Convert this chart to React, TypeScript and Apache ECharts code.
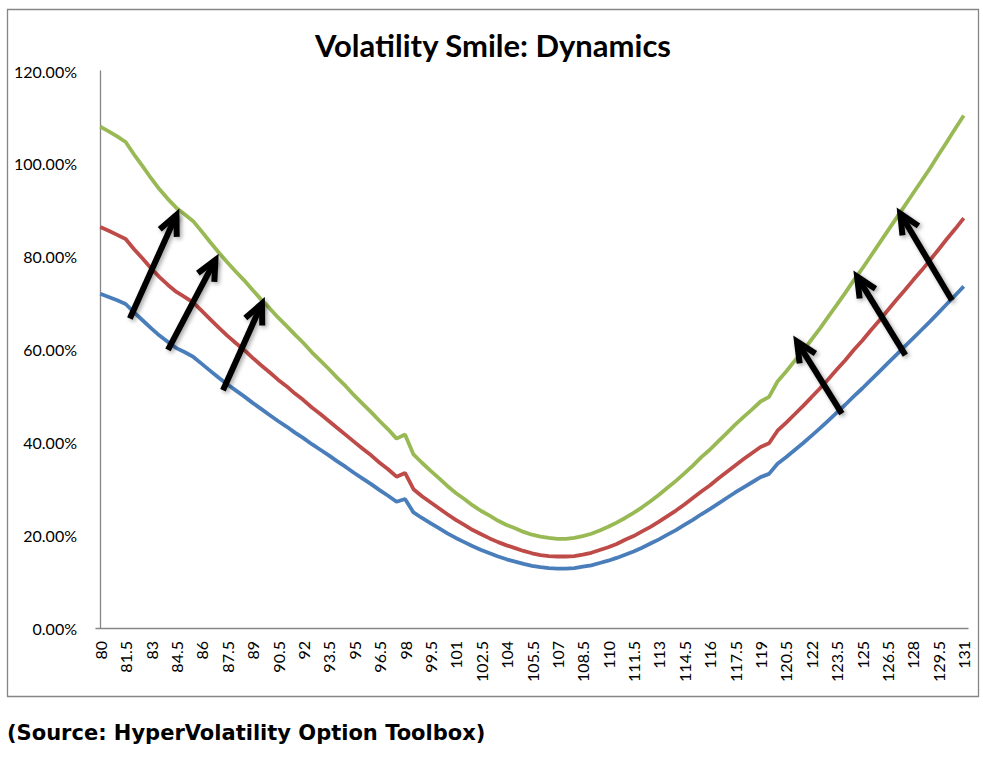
import React, { useRef, useEffect } from 'react';
import * as echarts from 'echarts';

// strikes 80 .. 131, every 0.5
const strikes = [
  '80', '80.5', '81', '81.5', '82', '82.5', '83', '83.5', '84', '84.5',
  '85', '85.5', '86', '86.5', '87', '87.5', '88', '88.5', '89', '89.5',
  '90', '90.5', '91', '91.5', '92', '92.5', '93', '93.5', '94', '94.5',
  '95', '95.5', '96', '96.5', '97', '97.5', '98', '98.5', '99', '99.5',
  '100', '100.5', '101', '101.5', '102', '102.5', '103', '103.5', '104', '104.5',
  '105', '105.5', '106', '106.5', '107', '107.5', '108', '108.5', '109', '109.5',
  '110', '110.5', '111', '111.5', '112', '112.5', '113', '113.5', '114', '114.5',
  '115', '115.5', '116', '116.5', '117', '117.5', '118', '118.5', '119', '119.5',
  '120', '120.5', '121', '121.5', '122', '122.5', '123', '123.5', '124', '124.5',
  '125', '125.5', '126', '126.5', '127', '127.5', '128', '128.5', '129', '129.5',
  '130', '130.5', '131',
];

// implied vol (%), low smile
const volLow = [
  72.0, 71.3, 70.6, 69.8, 68.0, 66.3, 64.6, 63.0, 61.6, 60.3,
  59.4, 58.4, 56.9, 55.4, 53.9, 52.5, 51.2, 49.9, 48.5, 47.2,
  45.9, 44.6, 43.4, 42.1, 40.9, 39.6, 38.4, 37.2, 35.9, 34.7,
  33.4, 32.2, 31.0, 29.7, 28.5, 27.2, 27.8, 24.9, 23.7, 22.6,
  21.5, 20.4, 19.4, 18.5, 17.6, 16.8, 16.1, 15.4, 14.8, 14.3,
  13.8, 13.4, 13.1, 12.9, 12.8, 12.8, 12.9, 13.2, 13.5, 14.0,
  14.5, 15.1, 15.8, 16.5, 17.3, 18.2, 19.1, 20.1, 21.1, 22.2,
  23.3, 24.5, 25.6, 26.8, 28.0, 29.2, 30.3, 31.4, 32.5, 33.2,
  35.4, 36.8, 38.3, 39.8, 41.4, 43.0, 44.7, 46.4, 48.1, 49.9,
  51.6, 53.4, 55.2, 57.0, 58.8, 60.6, 62.4, 64.2, 66.0, 67.9,
  69.8, 71.7, 73.6,
];

// middle smile
const volMid = [
  86.4, 85.6, 84.7, 83.8, 81.6, 79.6, 77.5, 75.6, 73.9, 72.4,
  71.3, 70.1, 68.3, 66.5, 64.7, 63.0, 61.4, 59.9, 58.2, 56.6,
  55.1, 53.5, 52.1, 50.5, 49.1, 47.5, 46.1, 44.6, 43.1, 41.6,
  40.1, 38.6, 37.2, 35.6, 34.2, 32.6, 33.4, 29.9, 28.4, 27.1,
  25.8, 24.5, 23.3, 22.2, 21.1, 20.2, 19.3, 18.5, 17.8, 17.2,
  16.6, 16.1, 15.7, 15.5, 15.4, 15.4, 15.5, 15.8, 16.2, 16.8,
  17.4, 18.1, 19.0, 19.8, 20.8, 21.8, 22.9, 24.1, 25.3, 26.6,
  28.0, 29.4, 30.7, 32.2, 33.6, 35.0, 36.4, 37.7, 39.0, 39.8,
  42.5, 44.2, 46.0, 47.8, 49.7, 51.6, 53.6, 55.7, 57.7, 59.9,
  61.9, 64.1, 66.2, 68.4, 70.6, 72.7, 74.9, 77.0, 79.2, 81.5,
  83.8, 86.0, 88.3,
];

// high smile
const volHigh = [
  108.0, 107.0, 105.9, 104.7, 102.0, 99.5, 96.9, 94.5, 92.4, 90.5,
  89.1, 87.6, 85.4, 83.1, 80.9, 78.8, 76.8, 74.9, 72.8, 70.8,
  68.9, 66.9, 65.1, 63.2, 61.4, 59.4, 57.6, 55.8, 53.9, 52.1,
  50.1, 48.3, 46.5, 44.6, 42.8, 40.8, 41.7, 37.4, 35.6, 33.9,
  32.3, 30.6, 29.1, 27.8, 26.4, 25.2, 24.2, 23.1, 22.2, 21.5,
  20.7, 20.1, 19.7, 19.4, 19.2, 19.2, 19.4, 19.8, 20.3, 21.0,
  21.8, 22.7, 23.7, 24.8, 26.0, 27.3, 28.7, 30.2, 31.7, 33.3,
  35.0, 36.8, 38.4, 40.2, 42.0, 43.8, 45.5, 47.1, 48.8, 49.8,
  53.1, 55.2, 57.5, 59.7, 62.1, 64.5, 67.1, 69.6, 72.2, 74.9,
  77.4, 80.1, 82.8, 85.5, 88.2, 90.9, 93.6, 96.3, 99.0, 101.9,
  104.7, 107.6, 110.4,
];

// annotation arrows: [tail strike index, tail vol, head strike index, head vol]
const arrows = [
  [3.5, 66.7, 9.0, 89.0],
  [8.0, 59.9, 13.6, 79.3],
  [14.5, 51.2, 19.1, 69.9],
  [87.6, 46.2, 82.3, 61.7],
  [95.1, 58.8, 89.4, 75.7],
  [100.6, 70.6, 94.5, 89.3],
];

const yTicks = { min: 0, max: 120, step: 20 };

const AXIS_GREY = '#868686';
const LABEL_FONT = { fontFamily: 'Lato', fontSize: 16, color: '#000' };

const App = () => {
  const chartRef = useRef(null);

  useEffect(() => {
    const myChart = echarts.init(chartRef.current, null, { renderer: 'svg' });

    const lineSeries = (name, data, color) => ({
      name,
      type: 'line',
      data,
      symbol: 'none',
      smooth: false,
      lineStyle: { color, width: 3.8 },
      itemStyle: { color },
    });

    const option = {
      animation: false,
      backgroundColor: '#fff',
      grid: { left: 96, right: 15, top: 71, bottom: 131, containLabel: false },
      xAxis: [
        {
          type: 'category',
          data: strikes,
          boundaryGap: true,
          axisLine: { lineStyle: { color: AXIS_GREY, width: 1.3 } },
          axisTick: { show: false },
          splitLine: { show: false },
          axisLabel: { ...LABEL_FONT, rotate: 90, interval: 2, margin: 13 },
        },
        // hidden linear copy of the category axis, used for the arrows
        { type: 'value', min: -0.5, max: strikes.length - 0.5, show: false },
      ],
      yAxis: {
        type: 'value',
        min: yTicks.min,
        max: yTicks.max,
        interval: yTicks.step,
        axisLine: { show: true, lineStyle: { color: AXIS_GREY, width: 1.3 } },
        axisTick: { show: false },
        splitLine: { show: false },
        axisLabel: {
          ...LABEL_FONT,
          margin: 19,
          formatter: (v) => v.toFixed(2) + '%',
        },
      },
      graphic: [
        {
          type: 'rect',
          shape: { x: 7.5, y: 9.5, width: 971, height: 687 },
          style: { fill: null, stroke: AXIS_GREY, lineWidth: 1.3 },
          silent: true,
        },
        {
          type: 'text',
          x: 493,
          y: 45,
          style: {
            text: 'Volatility Smile: Dynamics',
            align: 'center',
            verticalAlign: 'middle',
            fontFamily: 'Lato',
            fontWeight: 'bold',
            fontSize: 31,
            fill: '#000',
          },
        },
        {
          type: 'text',
          x: 7,
          y: 733,
          style: {
            text: '(Source: HyperVolatility Option Toolbox)',
            align: 'left',
            verticalAlign: 'middle',
            fontFamily: 'DejaVu Sans',
            fontWeight: 'bold',
            fontSize: 21,
            fill: '#000',
          },
        },
      ],
      series: [
        lineSeries('Low', volLow, '#4A7EBB'),
        lineSeries('Mid', volMid, '#BE4B48'),
        lineSeries('High', volHigh, '#98B954'),
        {
          type: 'custom',
          xAxisIndex: 1,
          yAxisIndex: 0,
          z: 10,
          clip: false,
          encode: { x: [0, 2], y: [1, 3] },
          data: arrows,
          renderItem: (params, api) => {
            const a = api.coord([api.value(0), api.value(1)]);
            const b = api.coord([api.value(2), api.value(3)]);
            const dx = b[0] - a[0];
            const dy = b[1] - a[1];
            const len = Math.hypot(dx, dy);
            const ux = -dx / len;
            const uy = -dy / len;
            const ang = (25 * Math.PI) / 180;
            const L = 22;
            const arm = (s) => [
              b[0] + L * (ux * Math.cos(s * ang) - uy * Math.sin(s * ang)),
              b[1] + L * (ux * Math.sin(s * ang) + uy * Math.cos(s * ang)),
            ];
            const style = {
              stroke: '#000',
              fill: null,
              lineWidth: 6,
              lineJoin: 'miter',
              lineCap: 'butt',
              shadowBlur: 4,
              shadowColor: 'rgba(0,0,0,0.35)',
              shadowOffsetX: 2,
              shadowOffsetY: 2,
            };
            return {
              type: 'group',
              children: [
                { type: 'line', shape: { x1: a[0], y1: a[1], x2: b[0], y2: b[1] }, style },
                { type: 'polyline', shape: { points: [arm(1), b, arm(-1)] }, style },
              ],
            };
          },
        },
      ],
    };

    myChart.setOption(option);

    return () => {
      myChart.dispose();
    };
  }, []);

  return (
    <div
      ref={chartRef}
      style={{ position: 'absolute', left: 0, top: 0, width: '983px', height: '759px' }}
    />
  );
};

export default App;
